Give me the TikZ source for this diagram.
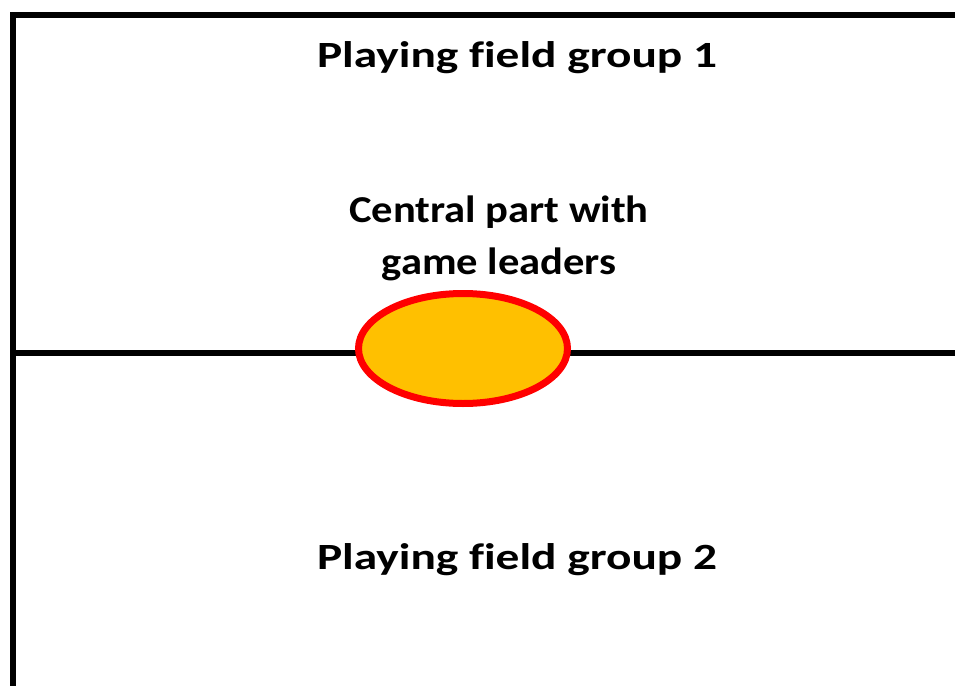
\documentclass[tikz,border=0pt]{standalone}
\usepackage{fontspec}
\setmainfont{Carlito}[Ligatures=NoCommon]
\definecolor{gold}{HTML}{FFC000}
\newcommand{\wide}[2]{\scalebox{#1}[1]{#2}}
\begin{document}
\begin{tikzpicture}[x=0.5pt,y=-0.5pt,
  border/.style={line width=3pt,black},
  title/.style={font=\bfseries\fontsize{18.5}{26}\selectfont,align=center,inner sep=0pt},
  label/.style={font=\bfseries\fontsize{19}{26}\selectfont,align=center,inner sep=0pt}]
\useasboundingbox (0,0) rectangle (955,686);
\clip (0,0) rectangle (955,686);
\draw[border] (12.5,720) -- (12.5,14.5) -- (1000,14.5);
\coordinate (L) at (12.5,352.5);
\coordinate (R) at (1000,352.5);
\draw[border] (L) -- (R);
\fill[gold,draw=red,line width=3.5pt] (463,348.5) ellipse [x radius=104.5, y radius=55];
\node[title] (g1) at (517,58) {\wide{1.28}{Playing field group 1}};
\node[label] (c) at (499,238) {\wide{1.12}{Central part with}\\\wide{1.12}{game leaders}};
\node[title] (g2) at (517,560) {\wide{1.28}{Playing field group 2}};
\end{tikzpicture}
\end{document}
